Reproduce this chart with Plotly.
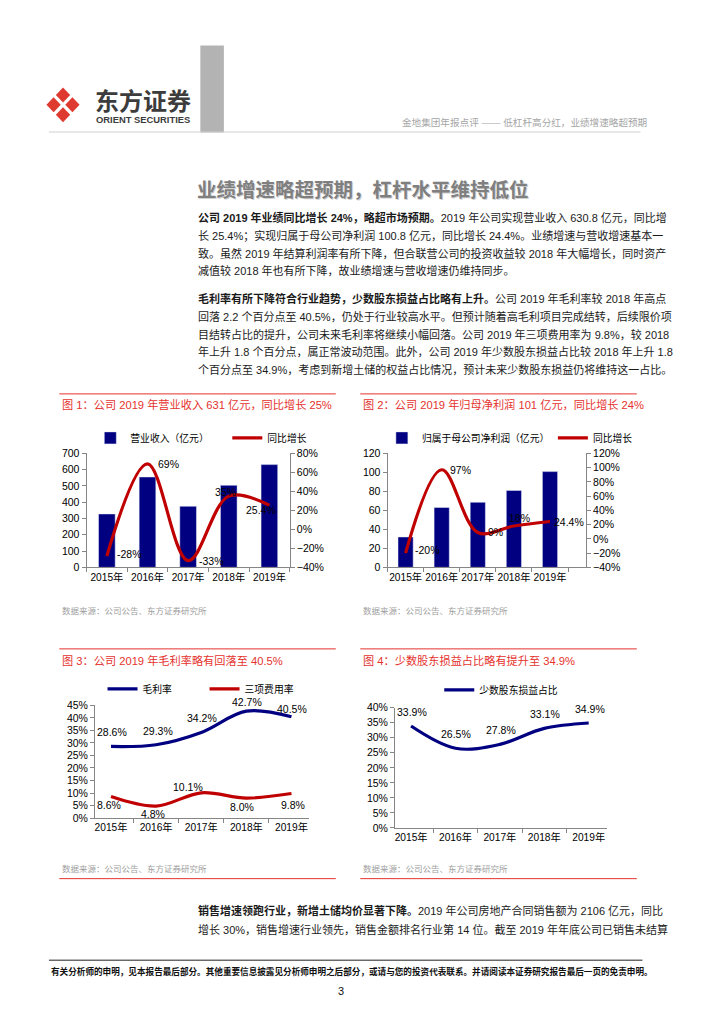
import plotly.graph_objects as go

W, H = 724, 1024


def px(x):
    return x / W


def py(y):
    return 1 - y / H


# ---------------- data ----------------
years = ["2015年", "2016年", "2017年", "2018年", "2019年"]

revenue = [328, 555, 375, 504, 631]                 # 营业收入（亿元）
revenue_yoy = [-0.28, 0.69, -0.33, 0.35, 0.254]     # 同比增长
revenue_yoy_text = ["-28%", "69%", "-33%", "35%", "25.4%"]

net_profit = [32, 63, 68.5, 81, 100.8]              # 归属于母公司净利润（亿元）
net_profit_yoy = [-0.20, 0.97, 0.09, 0.18, 0.244]   # 同比增长
net_profit_yoy_text = ["-20%", "97%", "9%", "18%", "24.4%"]

gross_margin = [0.286, 0.293, 0.342, 0.427, 0.405]  # 毛利率
expense_ratio = [0.086, 0.048, 0.101, 0.080, 0.098]  # 三项费用率
minority_share = [0.339, 0.265, 0.278, 0.331, 0.349]  # 少数股东损益占比

pct1 = lambda v: f"{v * 100:.1f}%"

NAVY = "#000080"
DRED = "#C00000"
TRED = "#E5322D"
AXC = "#868686"
FONT = "Liberation Sans, Noto Sans CJK SC, sans-serif"

fig = go.Figure()

# ---- Figure 1 ----
fig.add_trace(go.Bar(x=years, y=revenue, name="营业收入（亿元）", marker_color=NAVY,
                     width=0.41, xaxis="x", yaxis="y", legend="legend"))
fig.add_trace(go.Scatter(x=years, y=revenue_yoy, name="同比增长", mode="lines",
                         line=dict(color=DRED, width=3.2, shape="spline"),
                         xaxis="x", yaxis="y2", legend="legend"))
# ---- Figure 2 ----
fig.add_trace(go.Bar(x=years, y=net_profit, name="归属于母公司净利润（亿元）", marker_color=NAVY,
                     width=0.42, xaxis="x2", yaxis="y3", legend="legend2"))
fig.add_trace(go.Scatter(x=years, y=net_profit_yoy, name="同比增长", mode="lines",
                         line=dict(color=DRED, width=3.2, shape="spline"),
                         xaxis="x2", yaxis="y4", legend="legend2"))
# ---- Figure 3 ----
fig.add_trace(go.Scatter(x=years, y=gross_margin, name="毛利率", mode="lines",
                         line=dict(color=NAVY, width=3.2, shape="spline"),
                         xaxis="x3", yaxis="y5", legend="legend3"))
fig.add_trace(go.Scatter(x=years, y=expense_ratio, name="三项费用率", mode="lines",
                         line=dict(color=DRED, width=3.2, shape="spline"),
                         xaxis="x3", yaxis="y5", legend="legend3"))
# ---- Figure 4 ----
fig.add_trace(go.Scatter(x=years, y=minority_share, name="少数股东损益占比", mode="lines",
                         line=dict(color=NAVY, width=3.2, shape="spline"),
                         xaxis="x4", yaxis="y6", legend="legend4"))

ax_common = dict(showline=True, linecolor=AXC, linewidth=1, ticks="outside", ticklen=4,
                 tickcolor=AXC, showgrid=False, zeroline=False,
                 tickfont=dict(size=10.5, color="#000"))
x_common = dict(ax_common, tickson="boundaries", type="category", tickangle=0,
                tickfont=dict(size=10.2, color="#000"))

layout = dict(
    width=W, height=H, autosize=False,
    margin=dict(l=0, r=0, t=0, b=0),
    paper_bgcolor="white", plot_bgcolor="white",
    font=dict(family=FONT, color="#000", size=11),
    barmode="group",
    xaxis=dict(x_common, domain=[px(92), px(308)], anchor="y"),
    yaxis=dict(ax_common, domain=[py(568), py(452.7)], anchor="x", range=[0, 700], dtick=100),
    yaxis2=dict(ax_common, overlaying="y", side="right", anchor="x", range=[-0.4, 0.8],
                dtick=0.2, tickformat=".0%"),
    xaxis2=dict(x_common, domain=[px(412), px(623)], anchor="y3"),
    yaxis3=dict(ax_common, domain=[py(568), py(452.7)], anchor="x2", range=[0, 120], dtick=20),
    yaxis4=dict(ax_common, overlaying="y3", side="right", anchor="x2", range=[-0.4, 1.2],
                dtick=0.2, tickformat=".0%"),
    xaxis3=dict(x_common, domain=[px(101), px(329)], anchor="y5"),
    yaxis5=dict(ax_common, domain=[py(821.7), py(707.7)], anchor="x3", range=[0, 0.45],
                dtick=0.05, tickformat=".0%"),
    xaxis4=dict(x_common, domain=[px(420), px(645)], anchor="y6"),
    yaxis6=dict(ax_common, domain=[py(831.7), py(710)], anchor="x4", range=[0, 0.40],
                dtick=0.05, tickformat=".0%"),
)
leg_common = dict(orientation="h", xanchor="left", yanchor="middle", bgcolor="rgba(0,0,0,0)",
                  font=dict(size=9.8, color="#000"), itemclick=False, itemdoubleclick=False,
                  entrywidthmode="pixels", tracegroupgap=0)
layout["legend"] = dict(leg_common, x=px(96), y=py(437), entrywidth=92)
layout["legend2"] = dict(leg_common, x=px(406), y=py(437), entrywidth=126)
layout["legend3"] = dict(leg_common, x=px(109), y=py(691), entrywidth=57)
layout["legend4"] = dict(leg_common, x=px(467), y=py(692), entrywidth=100)
fig.update_layout(**layout)

ann = []
shapes = []


def label(xref, yref, x, y, text, dx, dy, size=10.5):
    ann.append(dict(xref=xref, yref=yref, x=x, y=y, text=text, showarrow=False,
                    xshift=dx, yshift=dy, font=dict(size=size, color="#000")))


# data labels (offsets in px)
off1 = [(23, 2), (21, 0), (23, 0), (-3, 4), (-8, -5)]
for i in range(5):
    label("x", "y2", years[i], revenue_yoy[i], revenue_yoy_text[i], *off1[i])
off2 = [(22, 3), (19, 0), (18, 0), (6, 8), (19, -1)]
for i in range(5):
    label("x2", "y4", years[i], net_profit_yoy[i], net_profit_yoy_text[i], *off2[i])
off3a = [(1, 14), (2, 14), (1, 14), (1, 9), (1, 8)]
off3b = [(-2, -8), (-3, -8), (-13, 6), (-4, -9), (2, -11)]
for i in range(5):
    label("x3", "y5", years[i], gross_margin[i], pct1(gross_margin[i]), *off3a[i])
    label("x3", "y5", years[i], expense_ratio[i], pct1(expense_ratio[i]), *off3b[i])
for i in range(5):
    label("x4", "y6", years[i], minority_share[i], pct1(minority_share[i]), 1, 14)


def text(x, y, s, size=11, color="#1a1a1a", anchor="left", family=FONT):
    ann.append(dict(xref="paper", yref="paper", x=px(x), y=py(y), text=s, showarrow=False,
                    xanchor=anchor, yanchor="middle", align=anchor,
                    font=dict(size=size, color=color, family=family)))


def hline(x0, x1, y, color, width=1):
    shapes.append(dict(type="line", xref="paper", yref="paper", x0=px(x0), x1=px(x1),
                       y0=py(y), y1=py(y), line=dict(color=color, width=width)))


# ---- header ----
shapes.append(dict(type="rect", xref="paper", yref="paper", x0=px(213), x1=px(238),
                   y0=py(128), y1=py(40), fillcolor="#b3b3b3", line=dict(width=0)))
hline(52, 681, 127.5, "#d0d0d0", 1)
cx, cy, d, h = 67, 100, 10, 7.6
for ox, oy in [(-d, 0), (0, -d), (d, 0), (0, d)]:
    x0, y0 = cx + ox, cy + oy
    pth = (f"M {px(x0 - h)},{py(y0)} L {px(x0)},{py(y0 - h)} L {px(x0 + h)},{py(y0)} "
           f"L {px(x0)},{py(y0 + h)} Z")
    shapes.append(dict(type="path", xref="paper", yref="paper", path=pth,
                       fillcolor="#DE3A30", line=dict(width=0)))
text(99, 97, "<b>东方证券</b>", size=24, color="#3c3c3c")
text(100, 115, "<b>ORIENT SECURITIES</b>", size=9.4, color="#3c3c3c")
text(690, 118, "金地集团年报点评 —— 低杠杆高分红，业绩增速略超预期", size=9.6, color="#a6a6a6",
     anchor="right")

# ---- section title (with light shadow) ----
title = "<b>业绩增速略超预期，杠杆水平维持低位</b>"
text(208.2, 187.2, title, size=19.5, color="#d0d0d0")
text(207, 186, title, size=19.5, color="#7f7f7f")

# ---- paragraphs ----
p1 = [
    "<b>公司 2019 年业绩同比增长 24%，略超市场预期。</b>2019 年公司实现营业收入 630.8 亿元，同比增",
    "长 25.4%；实现归属于母公司净利润 100.8 亿元，同比增长 24.4%。业绩增速与营收增速基本一",
    "致。虽然 2019 年结算利润率有所下降，但合联营公司的投资收益较 2018 年大幅增长，同时资产",
    "减值较 2018 年也有所下降，故业绩增速与营收增速仍维持同步。",
]
p2 = [
    "<b>毛利率有所下降符合行业趋势，少数股东损益占比略有上升。</b>公司 2019 年毛利率较 2018 年高点",
    "回落 2.2 个百分点至 40.5%，仍处于行业较高水平。但预计随着高毛利项目完成结转，后续限价项",
    "目结转占比的提升，公司未来毛利率将继续小幅回落。公司 2019 年三项费用率为 9.8%，较 2018",
    "年上升 1.8 个百分点，属正常波动范围。此外，公司 2019 年少数股东损益占比较 2018 年上升 1.8",
    "个百分点至 34.9%，考虑到新增土储的权益占比情况，预计未来少数股东损益仍将维持这一占比。",
]
p3 = [
    "<b>销售增速领跑行业，新增土储均价显著下降。</b>2019 年公司房地产合同销售额为 2106 亿元，同比",
    "增长 30%，销售增速行业领先，销售金额排名行业第 14 位。截至 2019 年年底公司已销售未结算",
]
for i, s in enumerate(p1):
    text(208, 214 + 18 * i, s, size=11)
for i, s in enumerate(p2):
    text(208, 296 + 18 * i, s, size=11)
for i, s in enumerate(p3):
    text(208, 915 + 19 * i, s, size=11)

# ---- figure frames ----
for (x0, x1) in [(63, 357), (383, 677)]:
    hline(x0, x1, 392.5, TRED, 1)
    hline(x0, x1, 650.5, TRED, 1)
    hline(x0, x1, 883, TRED, 1)
text(64, 403.5, "图 1：公司 2019 年营业收入 631 亿元，同比增长 25%", size=11.2, color=TRED)
text(384, 403.5, "图 2：公司 2019 年归母净利润 101 亿元，同比增长 24%", size=11.2, color=TRED)
text(64, 662, "图 3：公司 2019 年毛利率略有回落至 40.5%", size=11.2, color=TRED)
text(384, 662, "图 4：少数股东损益占比略有提升至 34.9%", size=11.2, color=TRED)
src = "数据来源：公司公告、东方证券研究所"
text(64, 612.5, src, size=8.5, color="#a0a0a0")
text(384, 612.5, src, size=8.5, color="#a0a0a0")
text(64, 873.5, src, size=8.5, color="#a0a0a0")
text(384, 873.5, src, size=8.5, color="#a0a0a0")

# ---- footer ----
hline(52, 683, 965.5, "#222222", 1)
text(52, 976.5, "<b>有关分析师的申明，见本报告最后部分。其他重要信息披露见分析师申明之后部分，或请与您的投资代表联系。"
     "并请阅读本证券研究报告最后一页的免责申明。</b>", size=8.6, color="#111")
text(362, 997, "3", size=11, color="#111", anchor="center")

fig.update_layout(annotations=ann, shapes=shapes)
fig.write_html("out.html", config={"displayModeBar": False},
               post_script="document.body.style.margin='0';")
